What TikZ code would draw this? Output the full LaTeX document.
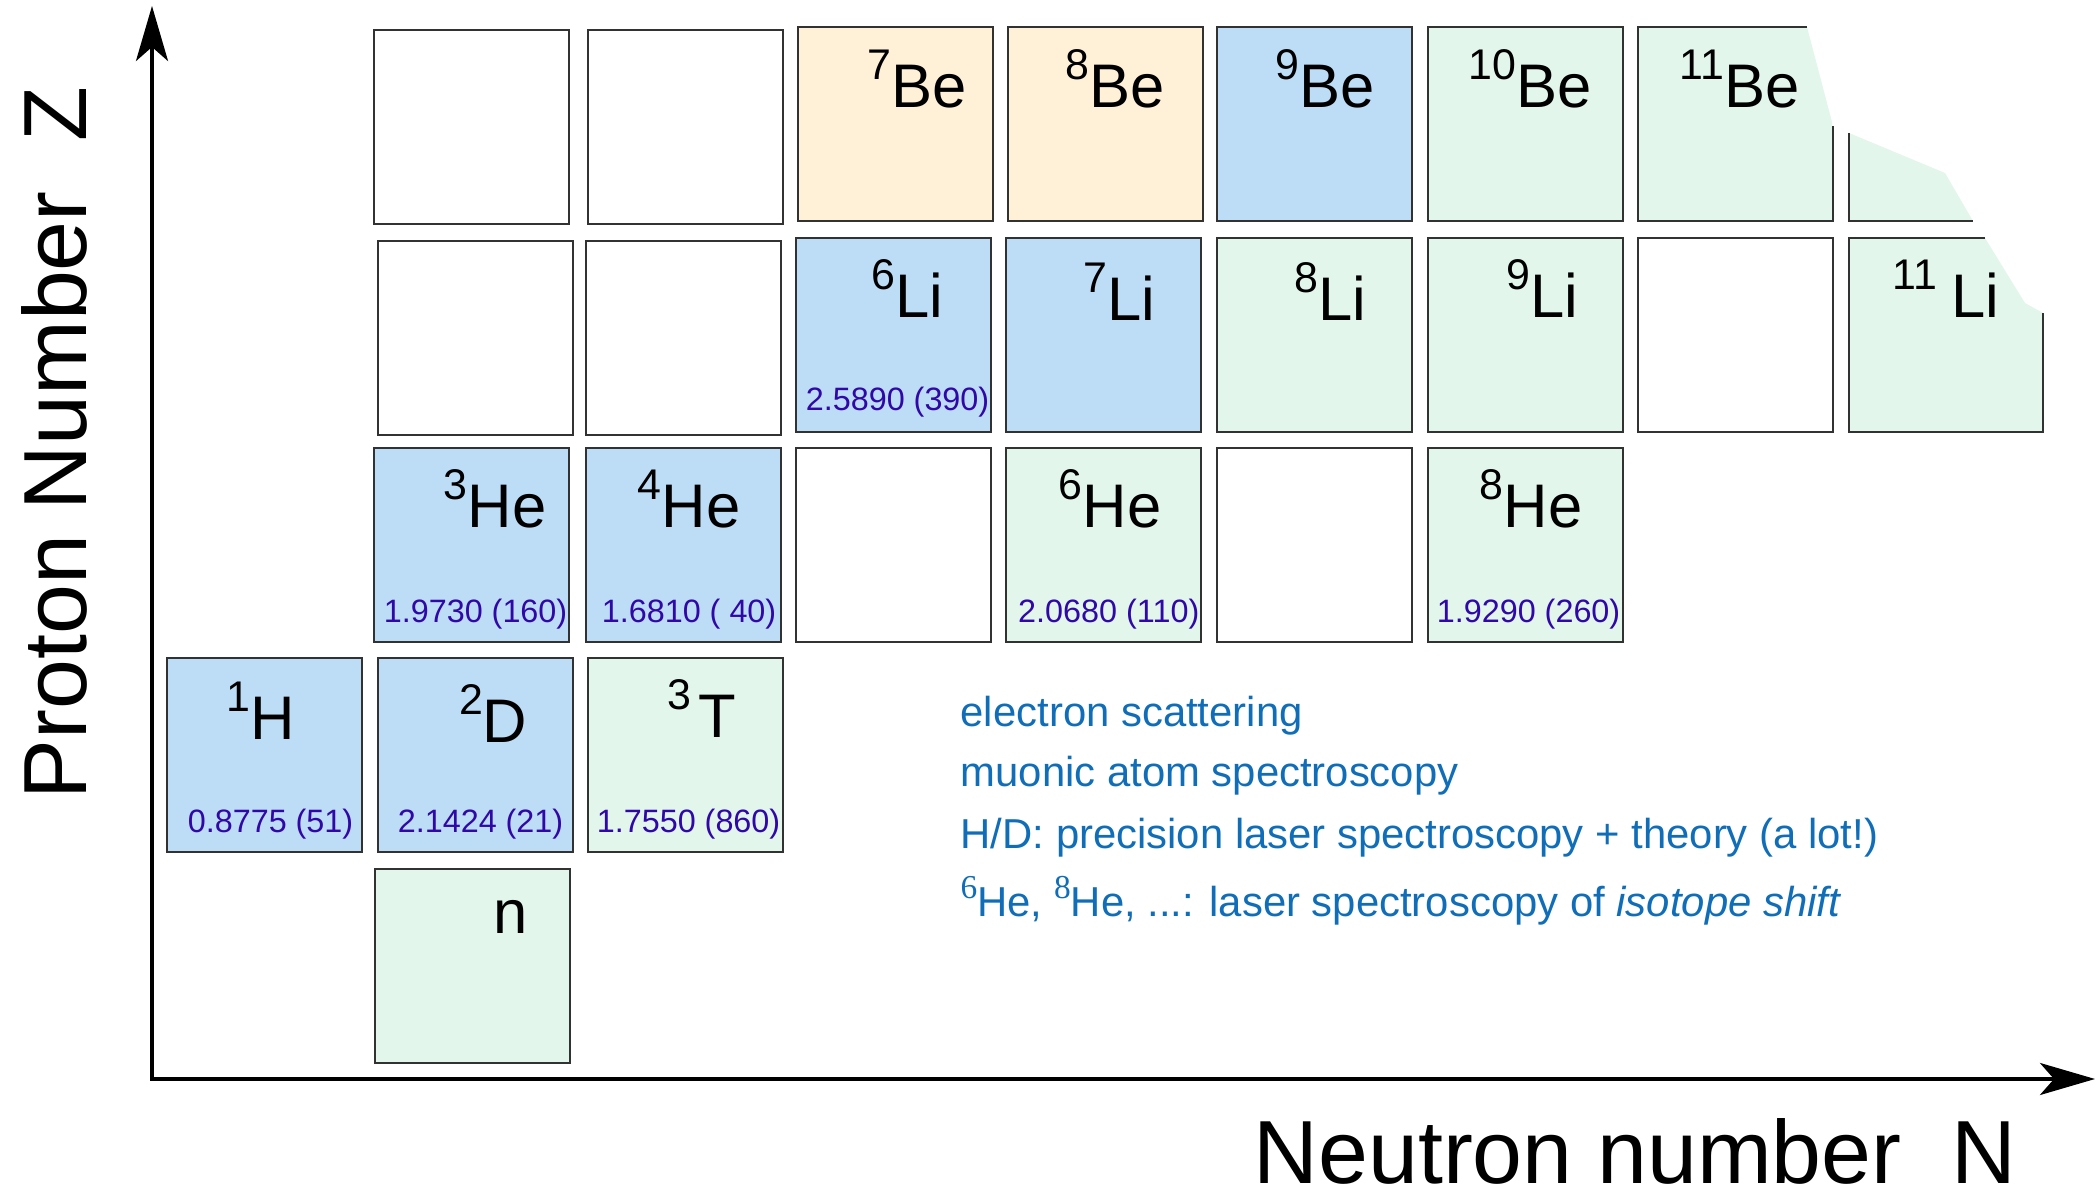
\documentclass[tikz,border=0pt]{standalone}
\usepackage{fontspec}
\setmainfont{Liberation Sans}
\newfontfamily\serifsup{Liberation Serif}
\usetikzlibrary{arrows.meta}
\definecolor{cellblue}{RGB}{189,220,246}
\definecolor{cellgreen}{RGB}{226,246,236}
\definecolor{cellcream}{RGB}{255,241,216}
\definecolor{valcol}{RGB}{48,8,168}
\definecolor{legcol}{RGB}{16,110,185}
\definecolor{edgecol}{RGB}{50,50,50}
\newcommand\iso[3][0pt]{\raisebox{8pt}{\fontsize{12.2}{12.2}\selectfont #2}\kern#1{\fontsize{17.5}{17.5}\selectfont #3}}
\newcommand\ssup[1]{\raisebox{5pt}{\serifsup\fontsize{9.5}{9.5}\selectfont #1}}
\begin{document}
\begin{tikzpicture}[x=0.01cm,y=-0.01cm]
\useasboundingbox (0,0) rectangle (2097,1198);
\tikzset{
  cell/.style={draw=edgecol, line width=0.6pt, minimum width=1.95cm, minimum height=1.94cm,
    anchor=north west, inner sep=0pt, outer sep=0pt},
  edge/.style={draw=edgecol, line width=0.6pt},
  sym/.style={anchor=base east, inner sep=0pt, text=black},
  val/.style={anchor=base east, inner sep=0pt, text=valcol, font=\fontsize{9.2}{9.2}\selectfont},
  leg/.style={anchor=base west, inner sep=0pt, text=legcol, font=\fontsize{11.9}{11.9}\selectfont},
  axislabel/.style={inner sep=0pt, font=\fontsize{25.5}{25.5}\selectfont},
  axis/.style={line width=1pt, line join=miter,
    {Stealth[length=0.55cm,width=0.32cm,inset=0.14cm]}-{Stealth[length=0.55cm,width=0.32cm,inset=0.14cm]}}
}
% ---- Be row
\node[cell] (e1) at (374,30) {};
\node[cell] (e2) at (588,30) {};
\node[cell, fill=cellcream] (be7) at (798,27) {};
\node[cell, fill=cellcream] (be8) at (1008,27) {};
\node[cell, fill=cellblue] (be9) at (1217,27) {};
\node[cell, fill=cellgreen] (be10) at (1428,27) {};
% torn 11Be
\fill[cellgreen] (1638,27) -- (1807,27) -- (1832,122) -- (1833,221) -- (1638,221) -- cycle;
\draw[edge] (1807,27) -- (1638,27) -- (1638,221) -- (1833,221) -- (1833,126);
% torn neighbour
\fill[cellgreen] (1849,133) -- (1945,173) -- (1973,221) -- (1849,221) -- cycle;
\draw[edge] (1849,133) -- (1849,221) -- (1973,221);
% ---- Li row
\node[cell] (l1) at (378,241) {};
\node[cell] (l2) at (586,241) {};
\node[cell, fill=cellblue] (li6) at (796,238) {};
\node[cell, fill=cellblue] (li7) at (1006,238) {};
\node[cell, fill=cellgreen] (li8) at (1217,238) {};
\node[cell, fill=cellgreen] (li9) at (1428,238) {};
\node[cell] (l7) at (1638,238) {};
% torn 11Li
\fill[cellgreen] (1849,238) -- (1985,238) -- (2025,303) -- (2043,313) -- (2043,432) -- (1849,432) -- cycle;
\draw[edge] (1985,238) -- (1849,238) -- (1849,432) -- (2043,432) -- (2043,313);
% ---- He row
\node[cell, fill=cellblue] (he3) at (374,448) {};
\node[cell, fill=cellblue] (he4) at (586,448) {};
\node[cell] (h3) at (796,448) {};
\node[cell, fill=cellgreen] (he6) at (1006,448) {};
\node[cell] (h5) at (1217,448) {};
\node[cell, fill=cellgreen] (he8) at (1428,448) {};
% ---- H row
\node[cell, fill=cellblue] (h1) at (167,658) {};
\node[cell, fill=cellblue] (d2) at (378,658) {};
\node[cell, fill=cellgreen] (t3) at (588,658) {};
% ---- n
\node[cell, fill=cellgreen] (nn) at (375,869) {};

% ---- symbols
\node[sym] (tbe7) at (967,108) {\iso{7}{Be}};
\node[sym] (tbe8) at (1165,108) {\iso{8}{Be}};
\node[sym] (tbe9) at (1375,108) {\iso{9}{Be}};
\node[sym] (tbe10) at (1592,108) {\iso{10}{Be}};
\node[sym] (tbe11) at (1800,108) {\iso{11}{Be}};
\node[sym] (tli6) at (944,318) {\iso{6}{Li}};
\node[sym] (tli7) at (1156,321) {\iso{7}{Li}};
\node[sym] (tli8) at (1367,321) {\iso{8}{Li}};
\node[sym] (tli9) at (1579,318) {\iso{9}{Li}};
\node[sym] (tli11) at (2000,318) {\iso[4pt]{11}{Li}};
\node[sym] (the3) at (547,528) {\iso{3}{He}};
\node[sym] (the4) at (741,528) {\iso{4}{He}};
\node[sym] (the6) at (1162,528) {\iso{6}{He}};
\node[sym] (the8) at (1583,528) {\iso{8}{He}};
\node[sym] (th1) at (296,740) {\iso{1}{H}};
\node[sym] (td2) at (528,743) {\iso{2}{D}};
\node[sym] (tt3) at (737,738) {\iso[2pt]{3}{T}};
\node[sym] (tn) at (528,934) {\fontsize{17.5}{17.5}\selectfont n};

% ---- values
\node[val] (vli6) at (990,411) {2.5890 (390)};
\node[val] (vhe3) at (568,623) {1.9730 (160)};
\node[val] (vhe4) at (777,623) {1.6810 ( 40)};
\node[val] (vhe6) at (1200,623) {2.0680 (110)};
\node[val] (vhe8) at (1621,623) {1.9290 (260)};
\node[val] (vh1) at (354,833) {0.8775 (51)};
\node[val] (vd2) at (564,833) {2.1424 (21)};
\node[val] (vt3) at (781,833) {1.7550 (860)};

% ---- legend
\node[leg] (leg1) at (960,727) {electron scattering};
\node[leg] (leg2) at (960,787) {muonic atom spectroscopy};
\node[leg] (leg3) at (960,849) {H/D: precision laser spectroscopy + theory (a lot!)};
\node[leg] (leg4) at (960,916) {\ssup{6}He, \ssup{8}He, ...: laser spectroscopy of \textit{isotope shift}};

% ---- axes
\coordinate (origin) at (152,1079);
\coordinate (ytip) at (152,6);
\coordinate (xtip) at (2095,1079);
\draw[axis] (ytip) -- (origin) -- (xtip);
\node[axislabel, anchor=base west] (xlab) at (1253,1183) {Neutron number\ \ N};
\node[axislabel, anchor=base west, rotate=90] (ylab) at (87,800) {Proton Number\ \ Z};
\end{tikzpicture}
\end{document}
